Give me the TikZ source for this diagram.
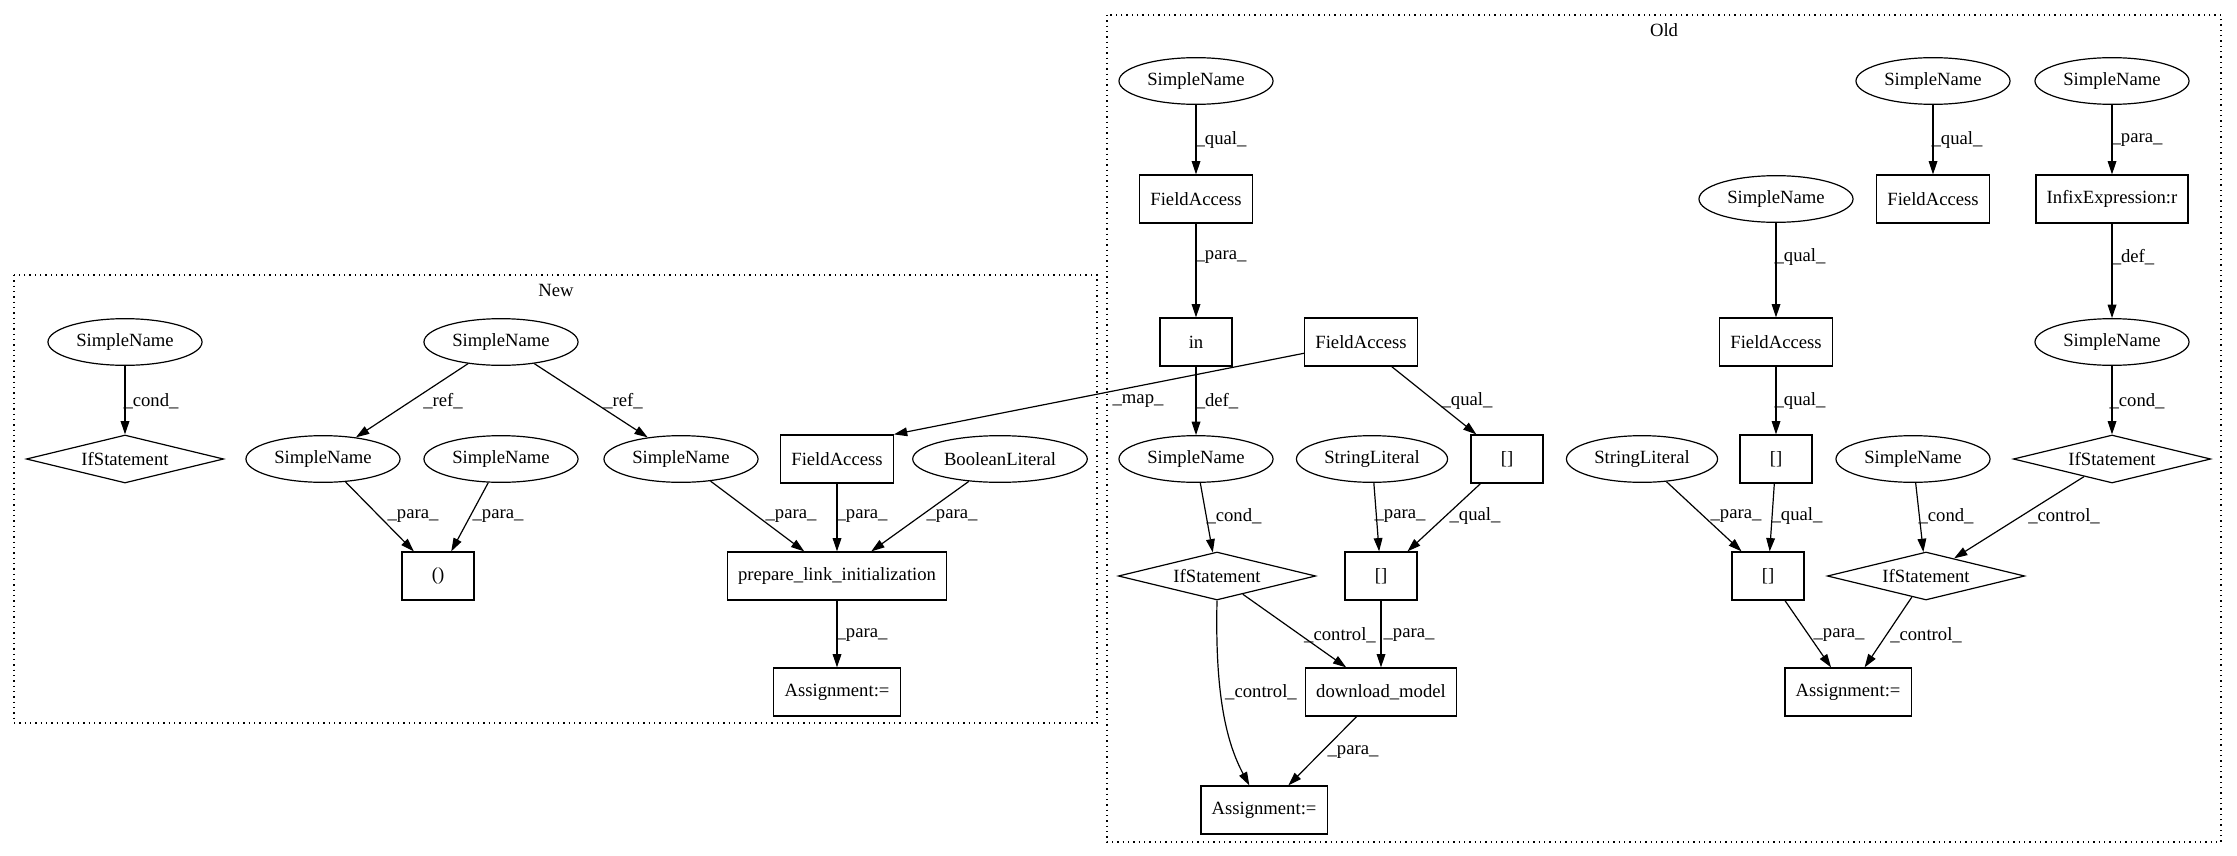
\documentclass[tikz,border=0pt]{standalone}
\usepackage{fontspec}
\setmainfont{Liberation Serif}
\usetikzlibrary{shapes.geometric,arrows.meta}
\begin{document}
\begin{tikzpicture}[x=0.75pt,y=-0.75pt,font=\fontsize{14}{16}\selectfont,line width=0.9pt,
    >={Triangle[length=10pt,width=6.5pt]}]
            \tikzset{
                box/.style={draw,rectangle,minimum width=54pt,minimum height=36pt,inner xsep=8pt,inner ysep=0pt},
                ell/.style={draw,ellipse,minimum height=35pt,inner xsep=4.3pt,inner ysep=0pt},
                dia/.style={draw,diamond,shape aspect=4.1,minimum width=148pt,minimum height=36pt,inner sep=0pt},
                lbl/.style={inner sep=0pt},
                link/.style={->},
                cluster/.style={dash pattern=on 1pt off 3pt,line width=1pt},}
            \useasboundingbox (0,0) rectangle (2237,856);
            % clusters
            \draw [cluster] (14,275) rectangle (1097,723);
            \node (tnew) at (556,290) {New};
            \draw [cluster] (1107,15) rectangle (2221,842);
            \node (told) at (1664,30) {Old};
            % new
            \node [ell] (sncond) at (125,342) {SimpleName};
            \node [dia] (ifnew) at (125,459) {IfStatement};
            \node [ell] (snref) at (501,342) {SimpleName};
            \node [ell] (snleft) at (323,459) {SimpleName};
            \node [ell] (snmid) at (501,459) {SimpleName};
            \node [ell] (snright) at (681,459) {SimpleName};
            \node [box] (fanew) at (837,459) {FieldAccess};
            \node [ell] (boollit) at (1000,459) {BooleanLiteral};
            \node [box] (paren) at (438,576) {()};
            \node [box] (prep) at (837,576) {prepare\_link\_initialization};
            \node [box] (asnew) at (837,692) {Assignment:=};
            % old, left part
            \node [ell] (snqa) at (1196,81) {SimpleName};
            \node [box] (faqa) at (1196,199) {FieldAccess};
            \node [box] (inop) at (1196,342) {in};
            \node [box] (famap) at (1361,342) {FieldAccess};
            \node [ell] (sncondA) at (1196,459) {SimpleName};
            \node [ell] (strA) at (1372,459) {StringLiteral};
            \node [box] (idxA) at (1507,459) {[]};
            \node [dia] (ifA) at (1217,576) {IfStatement};
            \node [box] (idxB) at (1381,576) {[]};
            \node [box] (dlmodel) at (1381,692) {download\_model};
            \node [box] (asA) at (1264,810) {Assignment:=};
            % old, right part
            \node [ell] (snqb) at (1933,81) {SimpleName};
            \node [box] (faqb) at (1933,199) {FieldAccess};
            \node [ell] (snpara) at (2112,81) {SimpleName};
            \node [box] (infix) at (2112,199) {InfixExpression:r};
            \node [ell] (snqc) at (1776,199) {SimpleName};
            \node [box] (faqc) at (1776,342) {FieldAccess};
            \node [ell] (sndef) at (2112,342) {SimpleName};
            \node [box] (idxC) at (1776,459) {[]};
            \node [ell] (strB) at (1642,459) {StringLiteral};
            \node [ell] (sncondB) at (1913,459) {SimpleName};
            \node [dia] (ifB) at (2112,459) {IfStatement};
            \node [box] (idxD) at (1768,576) {[]};
            \node [dia] (ifC) at (1926,576) {IfStatement};
            \node [box] (asB) at (1848,692) {Assignment:=};
            % edges, new
            \draw [link] (sncond) -- (ifnew);
            \draw [link] (snref) -- (snleft);
            \draw [link] (snref) -- (snright);
            \draw [link] (snleft) -- (paren);
            \draw [link] (snmid) -- (paren);
            \draw [link] (snright) -- (prep);
            \draw [link] (fanew) -- (prep);
            \draw [link] (boollit) -- (prep);
            \draw [link] (prep) -- (asnew);
            % edges, old
            \draw [link] (snqa) -- (faqa);
            \draw [link] (faqa) -- (inop);
            \draw [link] (famap) -- (fanew.north east);
            \draw [link] (inop) -- (sncondA);
            \draw [link] (famap) -- (idxA);
            \draw [link] (sncondA) -- (ifA);
            \draw [link] (strA) -- (idxB);
            \draw [link] (idxA) -- (idxB);
            \draw [link] (ifA) -- (dlmodel);
            \draw [link] (idxB) -- (dlmodel);
            \draw [link] (ifA.south) .. controls (1215,690) and (1225,740) .. ([xshift=-11pt]asA.north);
            \draw [link] (dlmodel) -- (asA);
            \draw [link] (snqb) -- (faqb);
            \draw [link] (snpara) -- (infix);
            \draw [link] (snqc) -- (faqc);
            \draw [link] (infix) -- (sndef);
            \draw [link] (faqc) -- (idxC);
            \draw [link] (sndef) -- (ifB);
            \draw [link] (strB) -- (idxD);
            \draw [link] (idxC) -- (idxD);
            \draw [link] (sncondB) -- (ifC);
            \draw [link] (ifB) -- (ifC);
            \draw [link] (idxD) -- (asB);
            \draw [link] (ifC) -- (asB);
            % edge labels
            \node [lbl] (l1) at (151,401) {\_cond\_};
            \node [lbl] (l2) at (443,401) {\_ref\_};
            \node [lbl] (l3) at (623,401) {\_ref\_};
            \node [lbl] (l4) at (413,516) {\_para\_};
            \node [lbl] (l5) at (498,516) {\_para\_};
            \node [lbl] (l6) at (791,516) {\_para\_};
            \node [lbl] (l7) at (862,516) {\_para\_};
            \node [lbl] (l8) at (952,516) {\_para\_};
            \node [lbl] (l9) at (862,635) {\_para\_};
            \node [lbl] (l10) at (1221,140) {\_qual\_};
            \node [lbl] (l11) at (1221,257) {\_para\_};
            \node [lbl] (l12) at (1138,401) {\_map\_};
            \node [lbl] (l13) at (1217,401) {\_def\_};
            \node [lbl] (l14) at (1467,401) {\_qual\_};
            \node [lbl] (l15) at (1234,516) {\_cond\_};
            \node [lbl] (l16) at (1400,516) {\_para\_};
            \node [lbl] (l17) at (1475,516) {\_qual\_};
            \node [lbl] (l18) at (1340,635) {\_control\_};
            \node [lbl] (l19) at (1409,635) {\_para\_};
            \node [lbl] (l20) at (1261,692) {\_control\_};
            \node [lbl] (l21) at (1353,752) {\_para\_};
            \node [lbl] (l22) at (1957,140) {\_qual\_};
            \node [lbl] (l23) at (2137,140) {\_para\_};
            \node [lbl] (l24) at (1800,257) {\_qual\_};
            \node [lbl] (l25) at (2133,257) {\_def\_};
            \node [lbl] (l26) at (1800,401) {\_qual\_};
            \node [lbl] (l27) at (2137,401) {\_cond\_};
            \node [lbl] (l28) at (1736,516) {\_para\_};
            \node [lbl] (l29) at (1797,516) {\_qual\_};
            \node [lbl] (l30) at (1946,516) {\_cond\_};
            \node [lbl] (l31) at (2064,516) {\_control\_};
            \node [lbl] (l32) at (1839,635) {\_para\_};
            \node [lbl] (l33) at (1926,635) {\_control\_};
        \end{tikzpicture}
\end{document}
